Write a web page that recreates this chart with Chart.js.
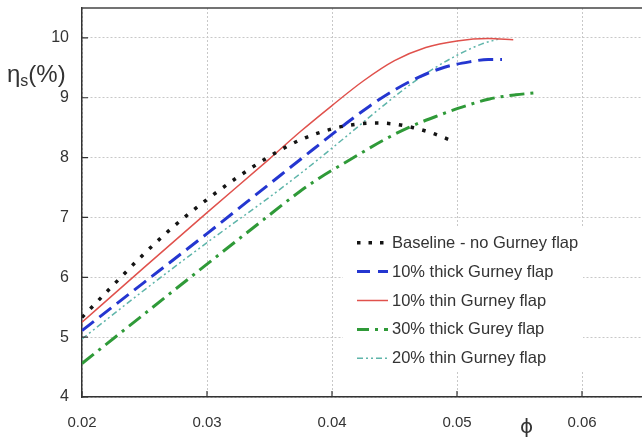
<!DOCTYPE html>
<html>
<head>
<meta charset="utf-8">
<script src="https://cdn.jsdelivr.net/npm/chart.js@4/dist/chart.umd.min.js"></script>
<style>
  html, body { margin: 0; padding: 0; background: #fff; }
  #wrap { width: 642px; height: 439px; position: relative; }
</style>
</head>
<body>
<div id="wrap"><canvas id="c" width="642" height="439"></canvas></div>
<script>
// Stage efficiency (%) against flow coefficient for each Gurney flap configuration
const baselinePhi = [0.020, 0.0225, 0.025, 0.0275, 0.030, 0.0325, 0.035, 0.0375, 0.040, 0.042, 0.0435, 0.045, 0.0465, 0.048, 0.0495];
const baselineEta = [5.33, 5.87, 6.40, 6.88, 7.30, 7.68, 8.02, 8.30, 8.48, 8.56, 8.58, 8.56, 8.50, 8.41, 8.29];

const thick10Phi = [0.020, 0.025, 0.030, 0.035, 0.0385, 0.041, 0.043, 0.045, 0.047, 0.049, 0.051, 0.0525, 0.0536];
const thick10Eta = [5.11, 5.92, 6.73, 7.56, 8.14, 8.55, 8.86, 9.13, 9.35, 9.51, 9.60, 9.64, 9.64];

const thin10Phi = [0.020, 0.025, 0.030, 0.035, 0.0375, 0.040, 0.0425, 0.045, 0.0475, 0.050, 0.0525, 0.0545];
const thin10Eta = [5.25, 6.17, 7.08, 7.98, 8.44, 8.87, 9.28, 9.62, 9.84, 9.95, 9.99, 9.97];

const thick30Phi = [0.020, 0.025, 0.030, 0.0345, 0.0374, 0.039, 0.0414, 0.0441, 0.0462, 0.0486, 0.0502, 0.0526, 0.0547, 0.0562];
const thick30Eta = [4.56, 5.39, 6.22, 6.96, 7.43, 7.66, 7.96, 8.29, 8.51, 8.71, 8.83, 8.98, 9.05, 9.08];

const thin20Phi = [0.020, 0.025, 0.030, 0.035, 0.038, 0.041, 0.044, 0.046, 0.048, 0.050, 0.052, 0.0533];
const thin20Eta = [4.97, 5.79, 6.58, 7.34, 7.82, 8.33, 8.85, 9.18, 9.47, 9.71, 9.90, 9.98];

const seriesLabels = [
  'Baseline - no Gurney flap',
  '10% thick Gurney flap',
  '10% thin Gurney flap',
  '30% thick Gurey flap',
  '20% thin Gurney flap'
];

const xTicks = [0.02, 0.03, 0.04, 0.05, 0.06];
const yTicks = [4, 5, 6, 7, 8, 9, 10];

const FONT = '"Liberation Sans", Arial, sans-serif';
const TEXT = '#333';

function pts(xs, ys) { return xs.map((x, i) => ({ x: x, y: ys[i] })); }

function line(label, xs, ys, color, width, dash) {
  return {
    label: label,
    data: pts(xs, ys),
    borderColor: color,
    backgroundColor: color,
    borderWidth: width,
    borderDash: dash,
    borderCapStyle: 'butt',
    pointRadius: 0,
    fill: false,
    cubicInterpolationMode: 'monotone'
  };
}

const datasets = [
  line(seriesLabels[0], baselinePhi, baselineEta, '#141414', 3.5, [3.5, 8.5]),
  line(seriesLabels[1], thick10Phi, thick10Eta, '#2436d0', 3, [15, 7]),
  line(seriesLabels[2], thin10Phi, thin10Eta, '#e0514c', 1.5, []),
  line(seriesLabels[3], thick30Phi, thick30Eta, '#2f9a38', 3, [15, 6, 3, 6]),
  line(seriesLabels[4], thin20Phi, thin20Eta, '#5fb5aa', 1.5, [6, 3, 2, 3, 2, 3])
];

// White legend panel, drawn over the grid but under the curves
const legendPanel = {
  id: 'legendPanel',
  beforeDatasetsDraw(chart) {
    const ctx = chart.ctx;
    ctx.save();
    ctx.fillStyle = '#fff';
    ctx.fillRect(343, 228, 240, 144);
    ctx.restore();
  },
  afterDatasetsDraw(chart) {
    const ctx = chart.ctx;
    ctx.save();
    const x0 = 357, x1 = 388, y0 = 242.7, dy = 28.9;
    const sampleDash = [[3.5, 8], [13, 8], [], [12, 6, 3, 6], [6, 3, 2, 3, 2, 3]];
    chart.data.datasets.forEach((ds, i) => {
      const y = y0 + i * dy;
      ctx.beginPath();
      ctx.strokeStyle = ds.borderColor;
      ctx.lineWidth = ds.borderWidth;
      ctx.setLineDash(sampleDash[i]);
      ctx.lineCap = 'butt';
      ctx.moveTo(x0, y);
      ctx.lineTo(x1, y);
      ctx.stroke();
      ctx.setLineDash([]);
      ctx.fillStyle = TEXT;
      ctx.font = '16.5px ' + FONT;
      ctx.textAlign = 'left';
      ctx.textBaseline = 'middle';
      ctx.fillText(ds.label, x1 + 4, y + 0.5);
    });
    ctx.restore();
  }
};

// Top frame line, inward tick marks and axis titles
const frame = {
  id: 'frame',
  afterDraw(chart) {
    const ctx = chart.ctx;
    const a = chart.chartArea;
    const xs = chart.scales.x, ys = chart.scales.y;
    ctx.save();
    ctx.strokeStyle = '#444';
    ctx.lineWidth = 1.5;
    ctx.beginPath();
    ctx.moveTo(a.left, a.top);
    ctx.lineTo(a.right, a.top);
    ctx.stroke();

    ctx.lineWidth = 1.2;
    ctx.strokeStyle = '#333';
    ctx.beginPath();
    yTicks.forEach(v => {
      const y = ys.getPixelForValue(v);
      ctx.moveTo(a.left, y);
      ctx.lineTo(a.left + 6, y);
    });
    xTicks.forEach(v => {
      const x = xs.getPixelForValue(v);
      ctx.moveTo(x, a.bottom);
      ctx.lineTo(x, a.bottom - 6);
    });
    ctx.stroke();

    // y-axis title: eta with subscript s
    ctx.fillStyle = TEXT;
    ctx.textBaseline = 'alphabetic';
    ctx.textAlign = 'left';
    let x = 7;
    const base = 82;
    ctx.font = '24px ' + FONT;
    ctx.fillText('η', x, base);
    x += ctx.measureText('η').width;
    ctx.font = '16px ' + FONT;
    ctx.fillText('s', x, base + 4);
    x += ctx.measureText('s').width;
    ctx.font = '24px ' + FONT;
    ctx.fillText('(%)', x, base);

    // x-axis title
    ctx.font = '20px "DejaVu Sans", ' + FONT;
    ctx.textAlign = 'center';
    ctx.textBaseline = 'middle';
    ctx.fillText('ϕ', xs.getPixelForValue(0.05557), 428);
    ctx.restore();
  }
};

new Chart(document.getElementById('c'), {
  type: 'line',
  data: { datasets: datasets },
  options: {
    responsive: false,
    animation: false,
    events: [],
    layout: { padding: { left: 0, right: 0, top: 8, bottom: 0 } },
    plugins: {
      legend: { display: false },
      tooltip: { enabled: false },
      title: { display: false }
    },
    scales: {
      x: {
        type: 'linear',
        min: 0.02,
        max: 0.0648,
        afterFit(scale) {
          scale.height = 42;
          scale.paddingLeft = 0; scale.paddingRight = 0;
        },
        afterBuildTicks(scale) { scale.ticks = xTicks.map(v => ({ value: v })); },
        ticks: {
          includeBounds: false,
          padding: 17,
          color: TEXT,
          font: { family: FONT, size: 15 },
          callback: v => Number(v).toFixed(2),
          maxRotation: 0
        },
        grid: { color: '#c8c8c8', drawTicks: false, lineWidth: 1 },
        border: { display: true, color: '#333', width: 1.5, dash: [2, 2] }
      },
      y: {
        type: 'linear',
        min: 4,
        max: 10.5,
        afterFit(scale) {
          scale.width = 82;
          scale.paddingTop = 0; scale.paddingBottom = 0;
        },
        afterBuildTicks(scale) { scale.ticks = yTicks.map(v => ({ value: v })); },
        ticks: {
          includeBounds: false,
          padding: 13,
          color: TEXT,
          font: { family: FONT, size: 16 },
          callback: v => String(v)
        },
        grid: { color: '#c8c8c8', drawTicks: false, lineWidth: 1 },
        border: { display: true, color: '#333', width: 1.5, dash: [2, 2] }
      }
    }
  },
  plugins: [legendPanel, frame]
});
</script>
</body>
</html>
